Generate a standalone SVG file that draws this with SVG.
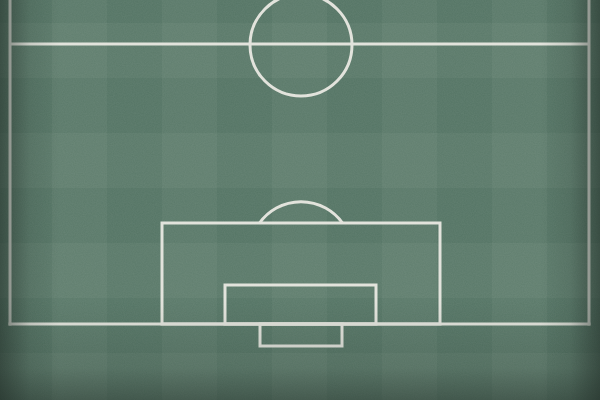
<svg xmlns="http://www.w3.org/2000/svg" width="600" height="400" viewBox="0 0 600 400">
  <defs>
    <pattern id="vstripe" x="52" y="0" width="110" height="400" patternUnits="userSpaceOnUse">
      <rect x="0" y="0" width="55" height="400" fill="#ffffff" fill-opacity="0.035"/>
    </pattern>
    <pattern id="hstripe" x="0" y="23" width="600" height="110" patternUnits="userSpaceOnUse">
      <rect x="0" y="0" width="600" height="55" fill="#ffffff" fill-opacity="0.035"/>
    </pattern>
    <linearGradient id="vigL" x1="0" y1="0" x2="1" y2="0">
      <stop offset="0" stop-color="#1e2a24" stop-opacity="0.55"/>
      <stop offset="0.05" stop-color="#1e2a24" stop-opacity="0.12"/>
      <stop offset="0.1" stop-color="#1e2a24" stop-opacity="0"/>
      <stop offset="0.9" stop-color="#1e2a24" stop-opacity="0"/>
      <stop offset="0.95" stop-color="#1e2a24" stop-opacity="0.12"/>
      <stop offset="1" stop-color="#1e2a24" stop-opacity="0.55"/>
    </linearGradient>
    <linearGradient id="vigB" x1="0" y1="0" x2="0" y2="1">
      <stop offset="0.75" stop-color="#1e2a24" stop-opacity="0"/>
      <stop offset="0.92" stop-color="#1e2a24" stop-opacity="0.15"/>
      <stop offset="1" stop-color="#1e2a24" stop-opacity="0.45"/>
    </linearGradient>
    <filter id="grain" x="0" y="0" width="100%" height="100%">
      <feTurbulence type="fractalNoise" baseFrequency="0.9" numOctaves="2" seed="3" result="n"/>
      <feColorMatrix type="matrix" values="0 0 0 0 1  0 0 0 0 1  0 0 0 0 1  0 0 0 0.07 0"/>
    </filter>
    <style>
      .line { fill: none; stroke: #e2e3dc; stroke-width: 3; }
    </style>
  </defs>
  <rect x="0" y="0" width="600" height="400" fill="#557565"/>
  <rect x="0" y="0" width="600" height="400" fill="url(#vstripe)"/>
  <rect x="0" y="0" width="600" height="400" fill="url(#hstripe)"/>
  <rect x="0" y="0" width="600" height="400" filter="url(#grain)"/>
  <g id="markings">
    <line class="line" x1="10" y1="0" x2="10" y2="325.5"/>
    <line class="line" x1="589" y1="0" x2="589" y2="325.5"/>
    <line class="line" x1="10" y1="44" x2="589" y2="44"/>
    <line class="line" x1="8.5" y1="324" x2="590.5" y2="324"/>
    <circle class="line" cx="301" cy="45" r="51"/>
    <rect class="line" x="162" y="223" width="278" height="101"/>
    <rect class="line" x="225" y="285" width="151" height="39"/>
    <rect class="line" x="260" y="324" width="82" height="22"/>
    <path class="line" d="M259.5,223 A51,51 0 0 1 342.5,223"/>
  </g>
  <rect x="0" y="0" width="600" height="400" fill="url(#vigL)"/>
  <rect x="0" y="0" width="600" height="400" fill="url(#vigB)"/>
</svg>
